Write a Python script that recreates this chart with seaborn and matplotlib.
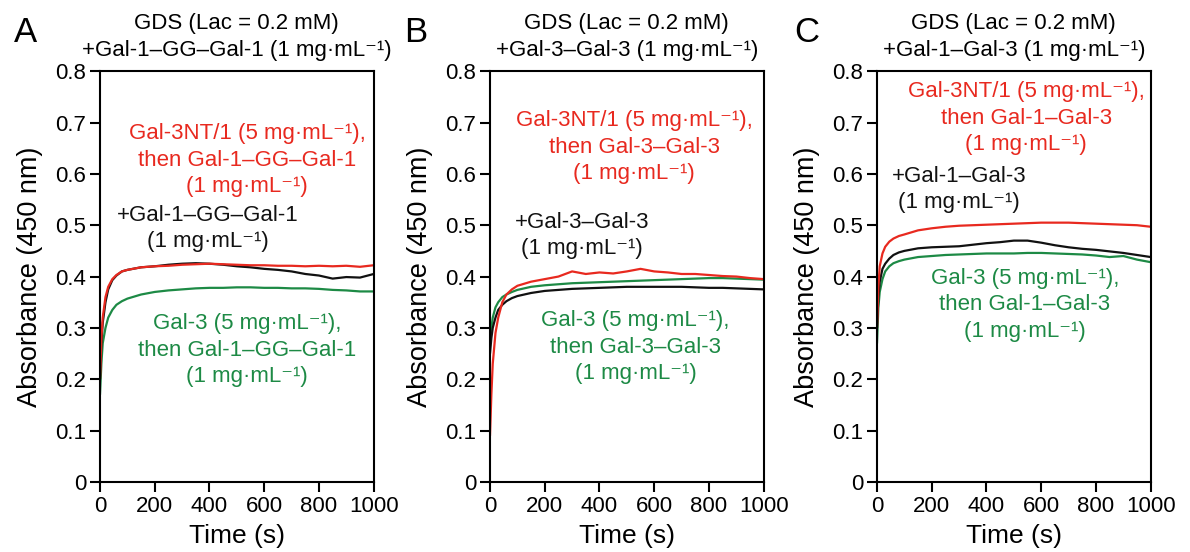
import seaborn as sns
import matplotlib.pyplot as plt
import numpy as np

sns.set_theme(style="ticks")
plt.rcParams['font.family'] = ['Liberation Sans', 'DejaVu Sans']
plt.rcParams['text.color'] = "black"
plt.rcParams['axes.labelcolor'] = "black"

RED = "#e8291f"
BLACK = "#111111"
GREEN = "#1d8a45"

time_s = [0, 5, 10, 20, 30, 45, 60, 80, 100, 150, 200, 250, 300, 350, 400,
          450, 500, 550, 600, 650, 700, 750, 800, 850, 900, 950, 1000]

# panel A
a_red = [0.20, 0.28, 0.32, 0.36, 0.38, 0.395, 0.403, 0.41, 0.413, 0.418, 0.42, 0.421, 0.423, 0.424,
         0.425, 0.424, 0.423, 0.422, 0.422, 0.421, 0.421, 0.42, 0.421, 0.42, 0.421, 0.419, 0.422]
a_black = [0.20, 0.27, 0.31, 0.35, 0.375, 0.393, 0.402, 0.41, 0.413, 0.418, 0.42, 0.423, 0.425, 0.426,
           0.425, 0.423, 0.42, 0.418, 0.415, 0.413, 0.41, 0.405, 0.402, 0.396, 0.399, 0.398, 0.405]
a_green = [0.17, 0.23, 0.27, 0.30, 0.32, 0.335, 0.345, 0.352, 0.357, 0.365, 0.37, 0.373, 0.375, 0.377,
           0.378, 0.378, 0.379, 0.379, 0.378, 0.378, 0.377, 0.377, 0.376, 0.374, 0.373, 0.371, 0.371]

# panel B
b_red = [0.09, 0.17, 0.23, 0.29, 0.32, 0.35, 0.365, 0.375, 0.382, 0.39, 0.395, 0.40, 0.41, 0.405,
         0.408, 0.406, 0.41, 0.415, 0.41, 0.408, 0.405, 0.405, 0.403, 0.401, 0.40, 0.397, 0.395]
b_black = [0.25, 0.28, 0.30, 0.32, 0.335, 0.345, 0.352, 0.358, 0.362, 0.368, 0.372, 0.374, 0.376, 0.377,
           0.378, 0.379, 0.38, 0.38, 0.38, 0.38, 0.38, 0.379, 0.378, 0.378, 0.377, 0.376, 0.375]
b_green = [0.27, 0.30, 0.32, 0.34, 0.35, 0.36, 0.365, 0.37, 0.374, 0.38, 0.383, 0.385, 0.387, 0.388,
           0.389, 0.39, 0.391, 0.392, 0.393, 0.394, 0.395, 0.396, 0.397, 0.397, 0.396, 0.395, 0.394]

# panel C
c_red = [0.30, 0.38, 0.42, 0.445, 0.458, 0.468, 0.474, 0.479, 0.482, 0.49, 0.494, 0.497, 0.499, 0.50,
         0.501, 0.502, 0.503, 0.504, 0.505, 0.505, 0.505, 0.504, 0.503, 0.502, 0.501, 0.50, 0.497]
c_black = [0.30, 0.36, 0.39, 0.415, 0.425, 0.435, 0.442, 0.447, 0.45, 0.455, 0.457, 0.458, 0.459, 0.462,
           0.465, 0.467, 0.47, 0.47, 0.466, 0.461, 0.457, 0.454, 0.452, 0.449, 0.446, 0.442, 0.438]
c_green = [0.27, 0.34, 0.37, 0.395, 0.41, 0.42, 0.426, 0.43, 0.433, 0.438, 0.44, 0.442, 0.443, 0.444,
           0.445, 0.445, 0.445, 0.446, 0.446, 0.445, 0.444, 0.443, 0.441, 0.438, 0.44, 0.433, 0.428]

letters = ["A", "B", "C"]
titles = ["GDS (Lac = 0.2 mM)\n+Gal-1–GG–Gal-1 (1 mg·mL⁻¹)",
          "GDS (Lac = 0.2 mM)\n+Gal-3–Gal-3 (1 mg·mL⁻¹)",
          "GDS (Lac = 0.2 mM)\n+Gal-1–Gal-3 (1 mg·mL⁻¹)"]
red_labels = ["Gal-3NT/1 (5 mg·mL⁻¹),\nthen Gal-1–GG–Gal-1\n(1 mg·mL⁻¹)",
              "Gal-3NT/1 (5 mg·mL⁻¹),\nthen Gal-3–Gal-3\n(1 mg·mL⁻¹)",
              "Gal-3NT/1 (5 mg·mL⁻¹),\nthen Gal-1–Gal-3\n(1 mg·mL⁻¹)"]
black_labels = ["+Gal-1–GG–Gal-1\n(1 mg·mL⁻¹)",
                "+Gal-3–Gal-3\n(1 mg·mL⁻¹)",
                "+Gal-1–Gal-3\n(1 mg·mL⁻¹)"]
green_labels = ["Gal-3 (5 mg·mL⁻¹),\nthen Gal-1–GG–Gal-1\n(1 mg·mL⁻¹)",
                "Gal-3 (5 mg·mL⁻¹),\nthen Gal-3–Gal-3\n(1 mg·mL⁻¹)",
                "Gal-3 (5 mg·mL⁻¹),\nthen Gal-1–Gal-3\n(1 mg·mL⁻¹)"]

series = [(a_red, a_black, a_green), (b_red, b_black, b_green), (c_red, c_black, c_green)]

# label positions in axes fraction: (red, black, green)
label_pos = [((0.537, 0.783), (0.395, 0.617), (0.537, 0.321)),
             ((0.527, 0.815), (0.335, 0.600), (0.532, 0.328)),
             ((0.545, 0.886), (0.300, 0.712), (0.540, 0.431))]

fig = plt.figure(figsize=(11.9, 5.52), dpi=100)
lefts = [100 / 1190, 490 / 1190, 877 / 1190]
letter_x = [25 / 1190, 416 / 1190, 807 / 1190]

for i in range(3):
    ax = fig.add_axes([lefts[i], 0.127, 0.230, 0.744])
    red, black, green = series[i]
    sns.lineplot(x=time_s, y=green, color=GREEN, lw=1.6, ax=ax)
    sns.lineplot(x=time_s, y=black, color=BLACK, lw=1.6, ax=ax)
    sns.lineplot(x=time_s, y=red, color=RED, lw=1.6, ax=ax)
    ax.set_xlim(0, 1000)
    ax.set_ylim(0, 0.8)
    ax.set_xticks(np.arange(0, 1001, 200))
    ax.set_yticks(np.arange(0, 0.81, 0.1))
    ax.set_yticklabels(["0"] + ["%.1f" % v for v in np.arange(0.1, 0.81, 0.1)])
    ax.tick_params(direction="out", length=7, width=1.5, labelsize=16, pad=3, colors="black")
    for sp in ax.spines.values():
        sp.set_linewidth(1.5)
        sp.set_color("black")
    ax.set_xlabel("Time (s)", fontsize=19, labelpad=5)
    ax.set_ylabel("Absorbance (450 nm)", fontsize=19.5, labelpad=9)
    ax.set_title(titles[i], fontsize=16, pad=11, linespacing=1.4, color="black")

    (rx, ry), (bx, by), (gx, gy) = label_pos[i]
    ax.text(rx, ry, red_labels[i], color=RED, fontsize=16, ha="center", va="center",
            transform=ax.transAxes, linespacing=1.35)
    ax.text(bx, by, black_labels[i], color=BLACK, fontsize=16, ha="center", va="center",
            transform=ax.transAxes, linespacing=1.35)
    ax.text(gx, gy, green_labels[i], color=GREEN, fontsize=16, ha="center", va="center",
            transform=ax.transAxes, linespacing=1.35)

    fig.text(letter_x[i], 1 - 32 / 552, letters[i], fontsize=25, ha="center", va="center",
             color="black")

fig.savefig("out.png", dpi=100)
